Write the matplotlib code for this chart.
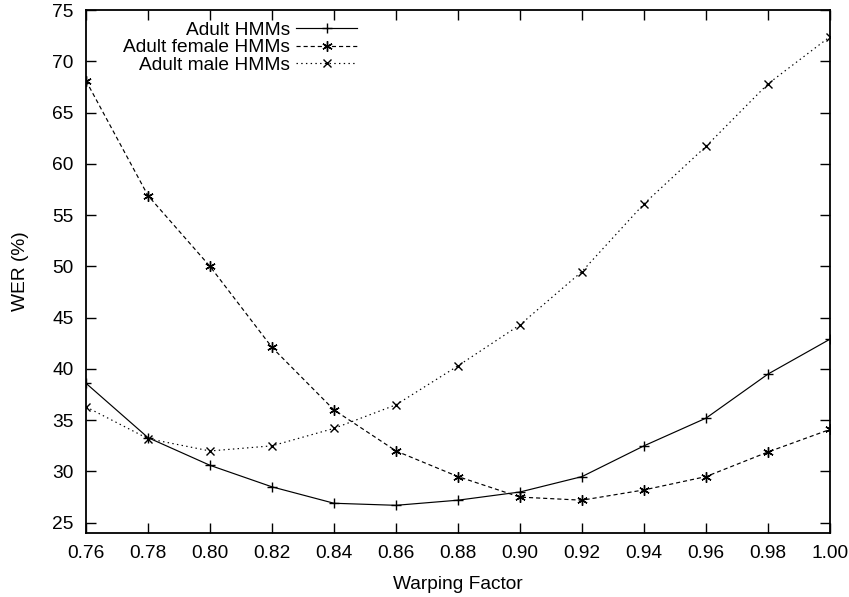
import matplotlib
matplotlib.use("Agg")
import matplotlib.pyplot as plt
from matplotlib.ticker import FormatStrFormatter

plt.rcParams['font.family'] = ['Liberation Sans', 'DejaVu Sans']

warping = [0.76, 0.78, 0.80, 0.82, 0.84, 0.86, 0.88, 0.90, 0.92, 0.94, 0.96, 0.98, 1.00]
adult = [38.6, 33.3, 30.6, 28.5, 26.9, 26.7, 27.2, 28.0, 29.5, 32.5, 35.2, 39.5, 42.9]
female = [68.1, 56.9, 50.0, 42.1, 36.0, 32.0, 29.5, 27.5, 27.2, 28.2, 29.5, 31.9, 34.1]
male = [36.3, 33.2, 32.0, 32.5, 34.2, 36.5, 40.3, 44.3, 49.5, 56.1, 61.7, 67.8, 72.4]
labels = ["Adult HMMs", "Adult female HMMs", "Adult male HMMs"]
xticks = [0.76, 0.78, 0.80, 0.82, 0.84, 0.86, 0.88, 0.90, 0.92, 0.94, 0.96, 0.98, 1.00]
yticks = [25, 30, 35, 40, 45, 50, 55, 60, 65, 70, 75]

fs = 13.8
fig = plt.figure(figsize=(8.49, 5.97), dpi=100)
ax = fig.add_axes([86/849, 1 - 533/597, (830-86)/849, (533-10)/597])

lw = 0.85
ax.plot(warping, adult, color='black', lw=lw, linestyle='-', marker='+', ms=6.5, mew=1.0, label=labels[0])
ax.plot(warping, female, color='black', lw=lw, linestyle=(0, (3.5, 2.5)), marker=(6, 2, 0), ms=7.5, mew=1.0, label=labels[1])
ax.plot(warping, male, color='black', lw=lw, linestyle=(0, (1.2, 2.8)), marker='x', ms=6, mew=1.0, label=labels[2])

ax.set_xlim(0.76, 1.00)
ax.set_ylim(24, 75)
ax.set_xticks(xticks)
ax.set_yticks(yticks)
ax.xaxis.set_major_formatter(FormatStrFormatter('%.2f'))
ax.tick_params(direction='in', length=7, width=1.0, top=True, right=True, labelsize=fs, pad=9)
for s in ax.spines.values():
    s.set_linewidth(1.3)

ax.set_xlabel("Warping Factor", fontsize=fs, labelpad=10)
ax.set_ylabel("WER (%)", fontsize=fs, labelpad=17)

leg = ax.legend(loc='upper left', bbox_to_anchor=(0.0, 1.0), frameon=False, markerfirst=False,
                fontsize=fs, handlelength=3.2, handletextpad=0.3, labelspacing=0.0,
                borderaxespad=0.3, borderpad=0.3)
fig.canvas.draw()
bb = leg.get_window_extent()
ax_bb = ax.get_window_extent()
dx = (363 - bb.x1) / ax_bb.width
leg.set_bbox_to_anchor((dx, 1.0), transform=ax.transAxes)

fig.savefig("out.png", dpi=100)
